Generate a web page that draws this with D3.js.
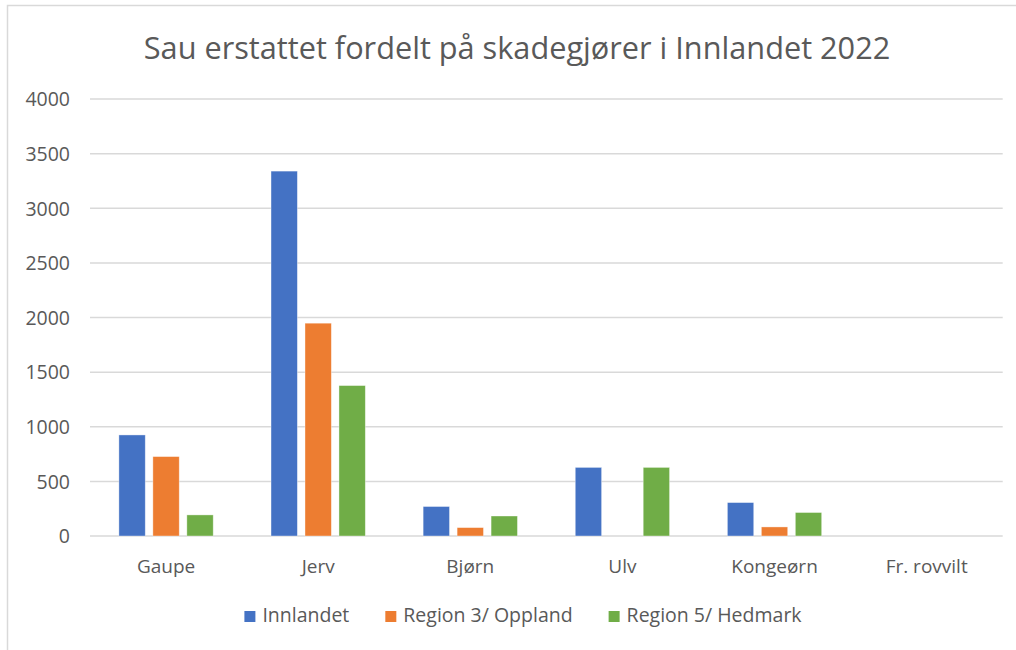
<!DOCTYPE html>
<html>
<head>
<meta charset="utf-8">
<script src="https://d3js.org/d3.v7.min.js"></script>
<style>
  body { margin: 0; background: #fff; }
  text { font-family: "Open Sans", sans-serif; fill: #595959; }
</style>
</head>
<body>
<svg width="1016" height="650"></svg>
<script>

// data
var categories = ["Gaupe", "Jerv", "Bjørn", "Ulv", "Kongeørn", "Fr. rovvilt"];
var seriesNames = ["Innlandet", "Region 3/ Oppland", "Region 5/ Hedmark"];
var innlandet = [925, 3340, 270, 628, 306, 0];
var oppland   = [727, 1948, 77, 0, 83, 0];
var hedmark   = [193, 1377, 183, 628, 215, 0];
var yTicks = [0, 500, 1000, 1500, 2000, 2500, 3000, 3500, 4000];
var colors = ["#4472C4", "#ED7D31", "#70AD47"];

var seriesValues = [innlandet, oppland, hedmark];
var rows = categories.map(function(c, i) {
  return { cat: c, vals: seriesValues.map(function(s) { return s[i]; }) };
});

var svg = d3.select("svg");

// frame (left and top edge only visible in the picture)
svg.append("path")
  .attr("d", "M7.5,650 V5.5 H1016")
  .attr("fill", "none")
  .attr("stroke", "#d9d9d9")
  .attr("stroke-width", 1.5);

var x0 = d3.scaleBand()
  .domain(categories)
  .range([90, 1002.7])
  .paddingInner(0.38)
  .paddingOuter(0.19);

var x1 = d3.scaleBand()
  .domain(seriesNames)
  .range([0, x0.bandwidth()])
  .paddingInner(0.224);

var y = d3.scaleLinear()
  .domain([0, 4000])
  .range([536, 99]);

// gridlines
svg.append("g")
  .selectAll("line")
  .data(yTicks)
  .enter().append("line")
    .attr("x1", 90)
    .attr("x2", 1002.7)
    .attr("y1", function(d) { return y(d); })
    .attr("y2", function(d) { return y(d); })
    .attr("stroke", "#d9d9d9")
    .attr("stroke-width", 1.5);

// y axis labels
var yAxis = d3.axisLeft(y)
  .tickValues(yTicks)
  .tickFormat(d3.format("d"))
  .tickSize(0)
  .tickPadding(0);

var gy = svg.append("g")
  .attr("transform", "translate(70,0)")
  .call(yAxis);
gy.select(".domain").remove();
gy.selectAll("text")
  .style("font-family", "'Open Sans', sans-serif")
  .style("font-size", "19.5px")
  .attr("fill", "#595959")
  .attr("dy", "0.35em");

// x axis labels
var xAxis = d3.axisBottom(x0).tickSize(0).tickPadding(0);
var gx = svg.append("g")
  .attr("transform", "translate(0,536)")
  .call(xAxis);
gx.select(".domain").remove();
gx.selectAll("text")
  .style("font-family", "'Open Sans', sans-serif")
  .style("font-size", "19px")
  .attr("fill", "#595959")
  .attr("y", 37)
  .attr("dy", 0);

// bars
svg.append("g")
  .selectAll("g")
  .data(rows)
  .enter().append("g")
    .attr("transform", function(d) { return "translate(" + x0(d.cat) + ",0)"; })
  .selectAll("rect")
  .data(function(d) {
    return d.vals.map(function(v, i) { return { name: seriesNames[i], value: v, i: i }; });
  })
  .enter().append("rect")
    .attr("x", function(d) { return x1(d.name); })
    .attr("width", x1.bandwidth())
    .attr("y", function(d) { return y(d.value); })
    .attr("height", function(d) { return y(0) - y(d.value); })
    .attr("fill", function(d) { return colors[d.i]; })
    .attr("stroke", "#ffffff")
    .attr("stroke-opacity", 0.5)
    .attr("stroke-width", 0.75);

// title
svg.append("text")
  .attr("x", 517)
  .attr("y", 59)
  .attr("text-anchor", "middle")
  .style("font-size", "30.7px")
  .text("Sau erstattet fordelt på skadegjører i Innlandet 2022");

// legend
var legend = svg.append("g");
var items = legend.selectAll("g")
  .data(seriesNames)
  .enter().append("g");
items.append("rect")
  .attr("width", 11)
  .attr("height", 11)
  .attr("y", -11)
  .attr("fill", function(d, i) { return colors[i]; });
items.append("text")
  .attr("x", 18)
  .attr("y", 0)
  .style("font-size", "19.5px")
  .text(function(d) { return d; });

var pos = 0, gap = 36;
items.each(function() {
  var w = 18 + d3.select(this).select("text").node().getComputedTextLength();
  d3.select(this).attr("transform", "translate(" + pos + ",0)");
  pos += w + gap;
});
var total = pos - gap;
legend.attr("transform", "translate(" + (523 - total / 2) + ",622)");

</script>
</body>
</html>
